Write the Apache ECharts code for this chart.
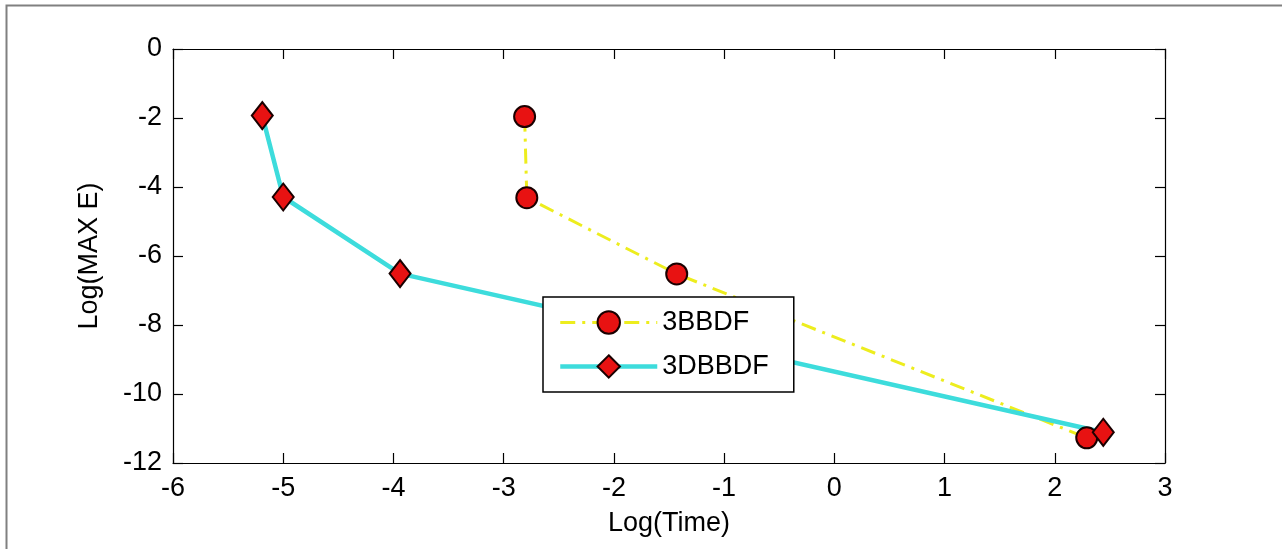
<!DOCTYPE html>
<html lang="en">
<head>
    <meta charset="UTF-8">
    <title>Log(MAX E) vs Log(Time)</title>
    <style>
        html, body { margin: 0; padding: 0; background: #fff; }
    </style>
</head>
<body>

<div id="main" style="width: 1282px;height:549px;"></div>

<script src="https://cdn.jsdelivr.net/npm/echarts@6/dist/echarts.min.js" charset="utf-8"></script>

<script type="text/javascript">
    // data
    var seriesNames = ['3BBDF', '3DBBDF'];
    var timeA = [-2.81, -2.79, -1.43, 2.29];
    var errA = [-1.96, -4.31, -6.52, -11.27];
    var timeB = [-5.19, -5.0, -3.94, 2.44];
    var errB = [-1.93, -4.29, -6.51, -11.11];
    var xTicks = [-6, -5, -4, -3, -2, -1, 0, 1, 2, 3];
    var yTicks = [-12, -10, -8, -6, -4, -2, 0];

    function pairs(xs, ys) {
        var out = [];
        for (var i = 0; i < xs.length; i++) {
            out.push([xs[i], ys[i]]);
        }
        return out;
    }

    var font = "'Liberation Sans', Arial, sans-serif";
    var fs = 27;

    var myChart = echarts.init(document.getElementById('main'));

    var xBase = {
        type: 'value',
        min: xTicks[0],
        max: xTicks[xTicks.length - 1],
        interval: 1,
        axisLine: {onZero: false, lineStyle: {color: '#000', width: 1.2}},
        axisTick: {inside: true, length: 10, lineStyle: {color: '#000', width: 1.2}},
        splitLine: {show: false}
    };
    var yBase = {
        type: 'value',
        min: yTicks[0],
        max: yTicks[yTicks.length - 1],
        interval: 2,
        axisLine: {onZero: false, lineStyle: {color: '#000', width: 1.2}},
        axisTick: {inside: true, length: 10, lineStyle: {color: '#000', width: 1.2}},
        splitLine: {show: false}
    };

    var option = {
        animation: false,
        backgroundColor: '#fff',
        textStyle: {fontFamily: font},
        grid: {
            left: 173,
            right: 117,
            top: 49,
            bottom: 86
        },
        // grey figure frame
        graphic: [{
            type: 'rect',
            left: 4,
            top: 3,
            shape: {width: 1320, height: 600},
            style: {fill: 'none', stroke: '#808080', lineWidth: 2},
            silent: true
        }],
        legend: {
            orient: 'vertical',
            left: 543,
            top: 297,
            itemWidth: 97,
            itemHeight: 28,
            itemGap: 17,
            padding: [12, 25, 12, 15],
            borderColor: '#000',
            borderWidth: 1.5,
            backgroundColor: '#fff',
            lineStyle: {width: 'inherit'},
            textStyle: {fontSize: fs, color: '#000', fontFamily: font},
            data: seriesNames
        },
        xAxis: [
            Object.assign({}, xBase, {
                position: 'bottom',
                name: 'Log(Time)',
                nameLocation: 'middle',
                nameGap: 47,
                nameTextStyle: {fontSize: fs, color: '#000', fontFamily: font},
                axisLabel: {fontSize: fs, color: '#000', margin: 12, fontFamily: font}
            }),
            Object.assign({}, xBase, {
                position: 'top',
                axisLabel: {show: false}
            })
        ],
        yAxis: [
            Object.assign({}, yBase, {
                position: 'left',
                name: 'Log(MAX E)',
                nameLocation: 'middle',
                nameGap: 70,
                nameTextStyle: {fontSize: fs, color: '#000', fontFamily: font},
                axisLabel: {fontSize: fs, color: '#000', margin: 11, fontFamily: font}
            }),
            Object.assign({}, yBase, {
                position: 'right',
                axisLabel: {show: false}
            })
        ],
        series: [
            {
                name: seriesNames[0],
                type: 'line',
                xAxisIndex: 0,
                yAxisIndex: 0,
                data: pairs(timeA, errA),
                symbol: 'circle',
                symbolSize: 21,
                lineStyle: {color: '#eded1e', width: 3, type: [15, 7, 3, 7]},
                itemStyle: {color: '#e81212', borderColor: '#1a0000', borderWidth: 2}
            },
            {
                name: seriesNames[1],
                type: 'line',
                xAxisIndex: 0,
                yAxisIndex: 0,
                data: pairs(timeB, errB),
                symbol: 'diamond',
                symbolSize: [21, 27],
                lineStyle: {color: '#3ddcdc', width: 4.5},
                itemStyle: {color: '#e81212', borderColor: '#1a0000', borderWidth: 2}
            }
        ]
    };

    myChart.setOption(option);
</script>
</body>
</html>
